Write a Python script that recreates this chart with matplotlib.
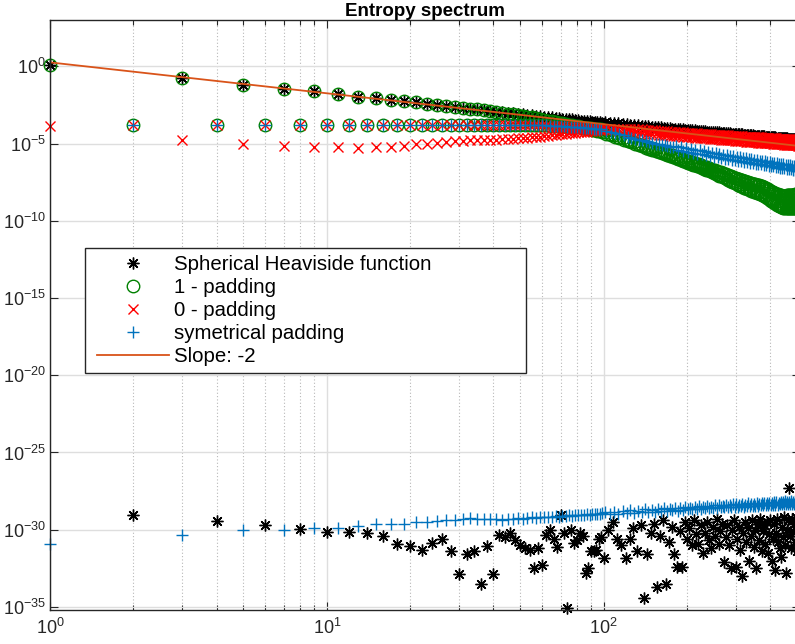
import numpy as np
import matplotlib
matplotlib.use("Agg")
import matplotlib.pyplot as plt
from matplotlib.lines import Line2D
from matplotlib.legend_handler import HandlerLine2D
from matplotlib.ticker import FixedLocator, LogLocator, NullLocator, NullFormatter, LogFormatterSciNotation

# ---------------------------------------------------------------------------
# Entropy spectrum values, stored as log10 of the spectral power.
# "head" = every index k < 100, "tail" = k >= 100 sampled every 4th index.
# ---------------------------------------------------------------------------

# Spherical Heaviside function
heav_odd_head = [
    0.06, -0.73, -1.23, -1.44, -1.60, -1.77, -1.97, -2.08, -2.16, -2.25,
    -2.34, -2.42, -2.49, -2.56, -2.63, -2.68, -2.74, -2.79, -2.84, -2.88,
    -2.93, -2.97, -3.01, -3.04, -3.08, -3.11, -3.14, -3.17, -3.20, -3.23,
    -3.26, -3.28, -3.31, -3.33, -3.36, -3.38, -3.40, -3.42, -3.44, -3.47,
    -3.49, -3.51, -3.52, -3.54, -3.56, -3.58, -3.60, -3.61, -3.63, -3.65]
heav_odd_tail = [
    -3.62, -3.645, -3.67, -3.695, -3.72, -3.745, -3.77, -3.795, -3.82, -3.84,
    -3.86, -3.88, -3.90, -3.915, -3.93, -3.95, -3.97, -3.99, -4.01, -4.025,
    -4.04, -4.05, -4.06, -4.075, -4.09, -4.10, -4.11, -4.13, -4.15, -4.16,
    -4.17, -4.18, -4.19, -4.205, -4.22, -4.23, -4.24, -4.255, -4.27, -4.275,
    -4.28, -4.29, -4.30, -4.315, -4.33, -4.335, -4.34, -4.35, -4.36, -4.37,
    -4.38, -4.39, -4.40, -4.405, -4.41, -4.42, -4.43, -4.44, -4.45, -4.46,
    -4.47, -4.475, -4.48, -4.49, -4.50, -4.505, -4.51, -4.515, -4.52, -4.53,
    -4.54, -4.545, -4.55, -4.56, -4.57, -4.575, -4.58, -4.585, -4.59, -4.60,
    -4.61, -4.615, -4.62, -4.625, -4.63, -4.64, -4.65, -4.655, -4.66, -4.665,
    -4.67, -4.675, -4.68, -4.69, -4.70, -4.705, -4.71, -4.72, -4.73, -4.735,
    -4.74, -4.745, -4.75]
heav_even_head = [
    -29.04, -29.45, -29.68, -29.97, -30.16, -30.12, -30.23, -30.42, -30.91, -31.07,
    -31.30, -30.87, -30.63, -31.41, -32.86, -31.56, -31.41, -33.50, -31.07, -32.90,
    -30.33, -30.50, -30.24, -30.67, -31.00, -31.20, -31.30, -32.50, -31.20, -32.30,
    -30.34, -30.00, -30.60, -31.10, -29.05, -30.20, -35.10, -30.02, -30.88, -30.70,
    -30.20, -30.40, -32.80, -32.50, -31.40, -31.40, -31.30, -30.60, -30.50]
heav_even_tail = [
    -31.85, -30.0, -29.5, -30.6, -31.0, -31.85, -30.6, -29.9, -31.4, -29.7,
    -34.4, -31.6, -30.2, -29.6, -33.7, -30.4, -29.4, -33.5, -30.8, -29.8,
    -31.6, -32.4, -30.1, -32.4, -29.5, -30.6, -29.9, -31.0, -29.4, -30.3,
    -30.9, -29.7, -31.5, -30.2, -29.5, -30.7, -31.2, -29.8, -30.4, -29.3,
    -30.9, -30.1, -29.6, -32.1, -30.5, -29.7, -31.0, -32.5, -30.0, -29.4,
    -32.4, -30.6, -29.8, -31.3, -33.0, -30.2, -29.5, -30.8, -29.9, -32.0,
    -30.4, -29.4, -31.1, -30.0, -32.5, -29.6, -30.7, -29.3, -31.4, -30.1,
    -29.7, -30.9, -29.5, -31.5, -30.3, -29.4, -32.0, -30.6, -29.6, -32.6,
    -30.2, -29.3, -30.8, -31.2, -31.75, -29.8, -30.5, -29.2, -31.0, -32.8,
    -30.0, -29.4, -27.3, -30.4, -31.2, -29.3, -30.1, -29.6, -30.8, -29.2,
    -31.4, -30.0, -29.5, -30.6]

# even-index plateau shared by the three padded signals
padded_even_head = [
    -3.82, -3.82, -3.82, -3.82, -3.82, -3.82, -3.82, -3.82, -3.82, -3.82,
    -3.82, -3.82, -3.82, -3.82, -3.82, -3.82, -3.82, -3.82, -3.82, -3.82,
    -3.82, -3.82, -3.82, -3.82, -3.82, -3.82, -3.82, -3.82, -3.82, -3.82,
    -3.83, -3.84, -3.85, -3.86, -3.87, -3.88, -3.90, -3.91, -3.93, -3.94,
    -3.96, -3.97, -3.99, -4.00, -4.02, -4.03, -4.05, -4.06, -4.08]

# 1 - padding
one_odd_head = [
    0.06, -0.73, -1.23, -1.44, -1.60, -1.77, -1.97, -2.08, -2.16, -2.25,
    -2.34, -2.42, -2.49, -2.56, -2.63, -2.68, -2.74, -2.79, -2.85, -2.90,
    -2.96, -3.01, -3.06, -3.11, -3.16, -3.21, -3.26, -3.31, -3.36, -3.41,
    -3.46, -3.51, -3.56, -3.60, -3.65, -3.69, -3.73, -3.77, -3.81, -3.85,
    -3.89, -3.93, -3.97, -4.01, -4.05, -4.09, -4.12, -4.16, -4.19, -4.23]
one_odd_tail = [
    -4.25, -4.35, -4.45, -4.55, -4.65, -4.74, -4.83, -4.92, -5.00, -5.08,
    -5.16, -5.24, -5.31, -5.38, -5.45, -5.52, -5.58, -5.65, -5.71, -5.77,
    -5.83, -5.89, -5.95, -6.01, -6.07, -6.11, -6.15, -6.21, -6.26, -6.31,
    -6.35, -6.40, -6.45, -6.50, -6.54, -6.59, -6.64, -6.68, -6.72, -6.77,
    -6.81, -6.86, -6.90, -6.95, -6.99, -7.04, -7.08, -7.13, -7.17, -7.21,
    -7.25, -7.29, -7.32, -7.36, -7.39, -7.42, -7.45, -7.48, -7.51, -7.54,
    -7.56, -7.59, -7.61, -7.64, -7.66, -7.69, -7.71, -7.74, -7.77, -7.81,
    -7.84, -7.88, -7.92, -7.97, -8.01, -8.06, -8.11, -8.15, -8.19, -8.22,
    -8.25, -8.28, -8.31, -8.34, -8.36, -8.37, -8.38, -8.38, -8.38, -8.37,
    -8.36, -8.35, -8.34, -8.33, -8.32, -8.31, -8.30, -8.30, -8.29, -8.29,
    -8.28, -8.28, -8.27]
one_even_tail = [
    -4.35, -4.45, -4.55, -4.65, -4.75, -4.84, -4.93, -5.02, -5.10, -5.18,
    -5.26, -5.34, -5.41, -5.48, -5.55, -5.62, -5.68, -5.75, -5.81, -5.87,
    -5.93, -5.99, -6.05, -6.11, -6.17, -6.24, -6.31, -6.37, -6.42, -6.48,
    -6.53, -6.58, -6.63, -6.69, -6.74, -6.79, -6.84, -6.90, -6.96, -7.02,
    -7.07, -7.13, -7.18, -7.24, -7.29, -7.35, -7.40, -7.46, -7.51, -7.56,
    -7.61, -7.67, -7.72, -7.77, -7.81, -7.85, -7.89, -7.93, -7.97, -8.01,
    -8.04, -8.08, -8.11, -8.15, -8.18, -8.22, -8.25, -8.29, -8.33, -8.38,
    -8.42, -8.47, -8.52, -8.58, -8.63, -8.69, -8.75, -8.81, -8.86, -8.91,
    -8.95, -8.99, -9.03, -9.07, -9.10, -9.12, -9.14, -9.15, -9.16, -9.17,
    -9.17, -9.17, -9.17, -9.17, -9.16, -9.16, -9.15, -9.15, -9.14, -9.14,
    -9.14, -9.14, -9.13]

# 0 - padding
zero_odd_head = [
    -3.89, -4.75, -5.01, -5.16, -5.22, -5.25, -5.26, -5.22, -5.20, -5.13,
    -5.06, -5.01, -4.95, -4.89, -4.84, -4.82, -4.80, -4.79, -4.78, -4.76,
    -4.74, -4.72, -4.70, -4.69, -4.67, -4.65, -4.62, -4.60, -4.57, -4.55,
    -4.52, -4.49, -4.46, -4.44, -4.41, -4.39, -4.36, -4.34, -4.32, -4.30,
    -4.28, -4.26, -4.24, -4.22, -4.20, -4.18, -4.16, -4.14, -4.12, -4.10]
zero_odd_tail = [
    -4.03, -4.03, -4.03, -4.03, -4.04, -4.045, -4.05, -4.06, -4.07, -4.085,
    -4.10, -4.115, -4.13, -4.145, -4.16, -4.175, -4.19, -4.205, -4.22, -4.235,
    -4.25, -4.26, -4.27, -4.28, -4.29, -4.30, -4.31, -4.32, -4.33, -4.34,
    -4.35, -4.36, -4.37, -4.38, -4.39, -4.40, -4.41, -4.415, -4.42, -4.43,
    -4.44, -4.445, -4.45, -4.46, -4.47, -4.475, -4.48, -4.49, -4.50, -4.505,
    -4.51, -4.515, -4.52, -4.53, -4.54, -4.545, -4.55, -4.555, -4.56, -4.565,
    -4.57, -4.575, -4.58, -4.585, -4.59, -4.595, -4.60, -4.605, -4.61, -4.615,
    -4.62, -4.625, -4.63, -4.635, -4.64, -4.645, -4.65, -4.655, -4.66, -4.665,
    -4.67, -4.675, -4.68, -4.685, -4.69, -4.695, -4.70, -4.705, -4.71, -4.715,
    -4.72, -4.72, -4.72, -4.725, -4.73, -4.735, -4.74, -4.745, -4.75, -4.755,
    -4.76, -4.765, -4.77]
zero_even_tail = [
    -4.07, -4.10, -4.13, -4.16, -4.19, -4.22, -4.25, -4.28, -4.31, -4.33,
    -4.35, -4.37, -4.39, -4.405, -4.42, -4.435, -4.45, -4.465, -4.48, -4.495,
    -4.51, -4.525, -4.54, -4.55, -4.56, -4.575, -4.59, -4.60, -4.61, -4.62,
    -4.63, -4.64, -4.65, -4.66, -4.67, -4.68, -4.69, -4.70, -4.71, -4.72,
    -4.73, -4.74, -4.75, -4.76, -4.77, -4.78, -4.79, -4.795, -4.80, -4.81,
    -4.82, -4.83, -4.84, -4.85, -4.86, -4.865, -4.87, -4.88, -4.89, -4.895,
    -4.90, -4.91, -4.92, -4.925, -4.93, -4.935, -4.94, -4.945, -4.95, -4.955,
    -4.96, -4.965, -4.97, -4.975, -4.98, -4.985, -4.99, -5.00, -5.01, -5.02,
    -5.03, -5.035, -5.04, -5.045, -5.05, -5.055, -5.06, -5.065, -5.07, -5.075,
    -5.08, -5.085, -5.09, -5.095, -5.10, -5.105, -5.11, -5.115, -5.12, -5.125,
    -5.13, -5.135, -5.14]

# symetrical padding
sym_even_tail = [
    -4.18, -4.25, -4.32, -4.395, -4.47, -4.545, -4.62, -4.68, -4.74, -4.795,
    -4.85, -4.90, -4.95, -5.00, -5.04, -5.08, -5.12, -5.16, -5.20, -5.235,
    -5.15, -5.42, -5.21, -5.48, -5.27, -5.54, -5.33, -5.60, -5.39, -5.655,
    -5.44, -5.705, -5.49, -5.755, -5.54, -5.805, -5.59, -5.85, -5.63, -5.89,
    -5.67, -5.93, -5.71, -5.97, -5.75, -6.005, -5.78, -6.04, -5.82, -6.08,
    -5.86, -6.115, -5.89, -6.145, -5.92, -6.175, -5.95, -6.205, -5.98, -6.235,
    -6.01, -6.265, -6.04, -6.295, -6.07, -6.325, -6.10, -6.35, -6.12, -6.375,
    -6.15, -6.405, -6.18, -6.43, -6.20, -6.455, -6.23, -6.48, -6.25, -6.505,
    -6.28, -6.53, -6.30, -6.55, -6.32, -6.575, -6.35, -6.60, -6.37, -6.62,
    -6.39, -6.64, -6.41, -6.66, -6.43, -6.68, -6.45, -6.70, -6.47, -6.72,
    -6.49, -6.74, -6.51]
sym_odd_head = [
    -30.90, -30.33, -30.00, -30.05, -29.90, -29.89, -29.79, -29.66, -29.66, -29.62,
    -29.50, -29.48, -29.42, -29.40, -29.38, -29.33, -29.25, -29.30, -29.32, -29.30,
    -29.30, -29.35, -29.28, -29.30, -29.25, -29.28, -29.24, -29.20, -29.23, -29.18,
    -29.20, -29.15, -29.18, -29.12, -29.16, -29.10, -29.13, -29.08, -29.11, -29.05,
    -29.08, -29.03, -29.06, -29.00, -29.04, -28.98, -29.01, -28.96, -28.99, -28.94]
sym_odd_tail = [
    -28.86, -29.00, -28.88, -29.01, -28.80, -28.89, -28.72, -28.93, -28.79, -28.86,
    -28.69, -28.85, -28.72, -28.87, -28.67, -28.77, -28.60, -28.80, -28.66, -28.74,
    -28.57, -28.76, -28.61, -28.70, -28.53, -28.69, -28.58, -28.67, -28.50, -28.65,
    -28.48, -28.63, -28.53, -28.60, -28.45, -28.62, -28.50, -28.57, -28.42, -28.61,
    -28.41, -28.56, -28.45, -28.55, -28.38, -28.54, -28.43, -28.52, -28.35, -28.53,
    -28.36, -28.50, -28.39, -28.48, -28.32, -28.50, -28.37, -28.46, -28.30, -28.47,
    -28.31, -28.45, -28.33, -28.44, -28.28, -28.45, -28.31, -28.42, -28.26, -28.43,
    -28.27, -28.41, -28.28, -28.40, -28.24, -28.40, -28.27, -28.38, -28.22, -28.39,
    -28.23, -28.37, -28.24, -28.36, -28.19, -28.36, -28.22, -28.34, -28.17, -28.35,
    -28.19, -28.33, -28.20, -28.32, -28.15, -28.33, -28.18, -28.31, -28.14, -28.32,
    -28.15, -28.30, -28.13]

# reference power law
slope_value = -2
slope_coef = 1.8
slope_k = [1, 512]

labels = ["Spherical Heaviside function", "1 - padding", "0 - padding",
          "symetrical padding", "Slope: -2"]
x_ticks = [1e0, 1e1, 1e2]
y_ticks = [1e-35, 1e-30, 1e-25, 1e-20, 1e-15, 1e-10, 1e-5, 1e0]

# index grids for the lists above
k_odd_head = np.arange(1, 100, 2)
k_even_head = np.arange(2, 100, 2)
k_odd_tail = np.arange(101, 513, 4)
k_even_tail = np.arange(102, 513, 4)
k_cloud = np.arange(100, 513, 4)


def series(*pairs):
    ks = np.concatenate([np.asarray(k, dtype=float) for k, _ in pairs])
    vs = np.concatenate([np.asarray(v, dtype=float) for _, v in pairs])
    return ks, 10.0 ** vs


heav_k, heav_v = series((k_odd_head, heav_odd_head), (k_odd_tail, heav_odd_tail),
                        (k_even_head, heav_even_head), (k_cloud, heav_even_tail))
one_k, one_v = series((k_odd_head, one_odd_head), (k_even_head, padded_even_head),
                      (k_odd_tail, one_odd_tail), (k_even_tail, one_even_tail))
zero_k, zero_v = series((k_odd_head, zero_odd_head), (k_even_head, padded_even_head),
                        (k_odd_tail, zero_odd_tail), (k_even_tail, zero_even_tail))
sym_k, sym_v = series((k_odd_head, sym_odd_head), (k_odd_tail, sym_odd_tail),
                      (k_even_head, padded_even_head), (k_even_tail, sym_even_tail))
line_k = np.array(slope_k, dtype=float)
line_v = slope_coef * line_k ** slope_value

plt.rcParams["font.family"] = ["Liberation Sans", "DejaVu Sans"]
plt.rcParams["mathtext.fontset"] = "custom"
plt.rcParams["mathtext.rm"] = "Liberation Sans"
plt.rcParams["mathtext.it"] = "Liberation Sans:italic"
plt.rcParams["mathtext.bf"] = "Liberation Sans:bold"
plt.rcParams["axes.unicode_minus"] = False

W, H = 795, 644
fig = plt.figure(figsize=(W / 100, H / 100), dpi=100)
ax_l, ax_b, ax_w, ax_h = 50, 34, 750, 590
ax = fig.add_axes([ax_l / W, ax_b / H, ax_w / W, ax_h / H])
ax.set_xscale("log")
ax.set_yscale("log")

axis_col = "#262626"
mk = dict(linestyle="none", markeredgewidth=1.0, clip_on=False)
ax.plot(heav_k, heav_v, marker=(8, 2, 0), markersize=8.5, color="black",
        label=labels[0], **mk)
ax.plot(one_k, one_v, marker="o", markersize=9, markerfacecolor="none",
        markeredgecolor="#008000", color="#008000", label=labels[1], **mk)
ax.plot(zero_k, zero_v, marker="x", markersize=7.2, color="#ff0000",
        label=labels[2], **mk)
ax.plot(sym_k, sym_v, marker="+", markersize=9, color="#0072bd",
        label=labels[3], **mk)
ax.plot(line_k, line_v, color="#d95319", linewidth=1.3, label=labels[4])

ax.set_xlim(1, 512)
ax.set_ylim(10 ** -35.2, 1e3)

ax.xaxis.set_major_locator(FixedLocator(x_ticks))
ax.xaxis.set_minor_locator(LogLocator(base=10, subs=np.arange(2, 10), numticks=20))
ax.xaxis.set_minor_formatter(NullFormatter())
ax.xaxis.set_major_formatter(LogFormatterSciNotation())
ax.yaxis.set_major_locator(FixedLocator(y_ticks))
ax.yaxis.set_minor_locator(NullLocator())
ax.yaxis.set_major_formatter(LogFormatterSciNotation())

ax.set_axisbelow(True)
ax.grid(True, which="major", color="#dedede", linewidth=1.0, linestyle="-")
ax.grid(True, which="minor", axis="x", color="#b8b8b8", linewidth=0.8,
        linestyle=(0, (1, 2)))

ax.tick_params(which="both", direction="in", top=True, right=True,
               color=axis_col, labelcolor=axis_col, labelsize=13)
ax.tick_params(which="major", length=5.8, width=0.8)
ax.tick_params(axis="x", which="major", pad=6)
ax.tick_params(axis="y", which="major", pad=3)
ax.tick_params(which="minor", length=3.6, width=0.8)
for sp in ax.spines.values():
    sp.set_color(axis_col)
    sp.set_linewidth(1.0)

ax.set_title("Entropy spectrum", fontsize=13.5, fontweight="bold", pad=3,
             color="black")

# legend box: pixel extent (85..526, 248..371) measured from the top-left corner
box_x0, box_x1, box_y0, box_y1 = 85, 526, 248, 371
fig_top = H - ax_b
anchor = ((box_x0 - ax_l) / ax_w, (fig_top - box_y1) / ax_h,
          (box_x1 - box_x0) / ax_w, (box_y1 - box_y0) / ax_h)
leg = ax.legend(loc="upper left", bbox_to_anchor=anchor, mode="expand",
                borderaxespad=0, fontsize=14.7, handlelength=3.78,
                handletextpad=0.25, labelspacing=0.2, borderpad=0.34,
                fancybox=False, framealpha=1, edgecolor=axis_col,
                handler_map={Line2D: HandlerLine2D(xpad=0.26)})
leg.get_frame().set_linewidth(1.0)
leg.set_zorder(5)

fig.savefig("out.png", dpi=100)
